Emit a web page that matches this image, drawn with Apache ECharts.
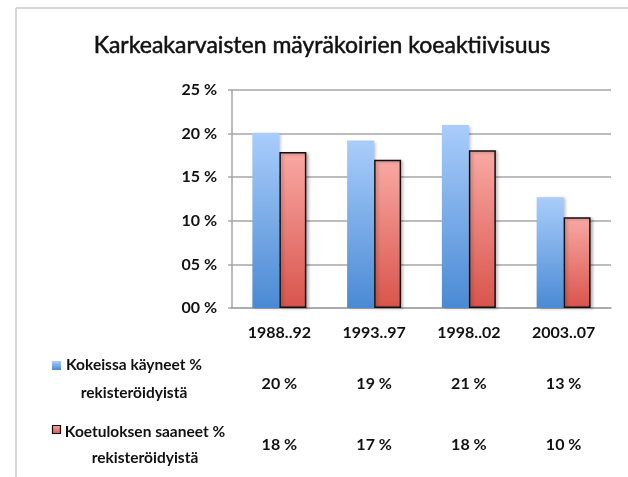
<!DOCTYPE html>
<html>
<head>
<meta charset="utf-8">
<script src="https://cdn.jsdelivr.net/npm/echarts@6/dist/echarts.min.js"></script>
<style>
html,body{margin:0;padding:0;background:#fff;}
#c{width:628px;height:477px;}
</style>
</head>
<body>
<div id="c"></div>
<script>
var titleText = 'Karkeakarvaisten mäyräkoirien koeaktiivisuus';
var categories = ['1988..92', '1993..97', '1998..02', '2003..07'];
var seriesNames = ['Kokeissa käyneet %\nrekisteröidyistä', 'Koetuloksen saaneet %\nrekisteröidyistä'];
var visited = [20.1, 19.2, 21.0, 12.7];
var results = [17.9, 17.0, 18.1, 10.4];
var tableVisited = ['20 %', '19 %', '21 %', '13 %'];
var tableResults = ['18 %', '17 %', '18 %', '10 %'];
var yTicks = ['00 %', '05 %', '10 %', '15 %', '20 %', '25 %'];

var FONT = 'Lato';
var chart = echarts.init(document.getElementById('c'), null, {renderer: 'canvas'});

function grad(top, bottom) {
  return new echarts.graphic.LinearGradient(0, 0, 0, 1, [
    {offset: 0, color: top}, {offset: 1, color: bottom}
  ]);
}

var labelBase = {fontFamily: FONT, fontWeight: 'bold', fontSize: 16, color: '#111', verticalAlign: 'middle'};

chart.setOption({
  animation: false,
  backgroundColor: '#fff',
  grid: {left: 232, right: 17, top: 90, bottom: 169, containLabel: false},
  xAxis: [
    {
      type: 'category', data: categories, position: 'bottom',
      axisLine: {show: true, lineStyle: {color: '#a6a6a6', width: 1.5}},
      axisTick: {show: false},
      axisLabel: Object.assign({margin: 25}, labelBase)
    },
    {
      type: 'category', data: categories, position: 'bottom',
      axisLine: {show: false}, axisTick: {show: false},
      axisLabel: Object.assign({margin: 76, formatter: function (v, i) { return tableVisited[i]; }}, labelBase)
    },
    {
      type: 'category', data: categories, position: 'bottom',
      axisLine: {show: false}, axisTick: {show: false},
      axisLabel: Object.assign({margin: 137, formatter: function (v, i) { return tableResults[i]; }}, labelBase)
    }
  ],
  yAxis: {
    type: 'value', min: 0, max: 25, interval: 5,
    axisLine: {show: true, lineStyle: {color: '#a6a6a6', width: 1.5}},
    axisTick: {show: true, length: 4, lineStyle: {color: '#a6a6a6', width: 1.5}},
    splitLine: {show: true, lineStyle: {color: '#a6a6a6', width: 1.5}},
    axisLabel: {
      margin: 15, fontFamily: FONT, fontWeight: 'bold', fontSize: 16, color: '#111',
      formatter: function (v) { return yTicks[Math.round(v / 5)]; }
    }
  },
  series: [
    {
      name: seriesNames[0], type: 'bar', data: visited, xAxisIndex: 0,
      barGap: '0%', barCategoryGap: '43%',
      itemStyle: {
        color: grad('#a9cdfb', '#4a8ad4'),
        shadowColor: 'rgba(0,0,0,0.25)', shadowBlur: 3, shadowOffsetX: 2, shadowOffsetY: 1
      }
    },
    {
      name: seriesNames[1], type: 'bar', data: results, xAxisIndex: 0,
      barGap: '0%', barCategoryGap: '43%',
      itemStyle: {
        color: grad('#f9a9a4', '#d8544b'),
        borderColor: '#111', borderWidth: 1.5,
        shadowColor: 'rgba(0,0,0,0.25)', shadowBlur: 3, shadowOffsetX: 2, shadowOffsetY: 1
      }
    }
  ],
  graphic: [
    {type: 'line', shape: {x1: 16, y1: 8, x2: 628, y2: 8}, style: {stroke: '#c8c8c8', lineWidth: 1.5}},
    {type: 'line', shape: {x1: 16, y1: 8, x2: 16, y2: 477}, style: {stroke: '#c8c8c8', lineWidth: 1.5}},
    {type: 'text', x: 322, y: 46, style: {text: titleText, fontFamily: FONT, fontSize: 23, fill: '#111', stroke: '#111', lineWidth: 0.5, textAlign: 'center', textVerticalAlign: 'middle'}},
    {type: 'rect', shape: {x: 52, y: 361, width: 9, height: 9}, style: {fill: grad('#a9cdfb', '#4a8ad4')}},
    {type: 'text', x: 134, y: 379, style: {text: seriesNames[0], fontFamily: FONT, fontWeight: 'bold', fontSize: 15.5, lineHeight: 28, fill: '#111', textAlign: 'center', textVerticalAlign: 'middle'}},
    {type: 'rect', shape: {x: 52.5, y: 425.5, width: 8, height: 8}, style: {fill: grad('#f9a9a4', '#d8544b'), stroke: '#111', lineWidth: 1.2}},
    {type: 'text', x: 145, y: 445, style: {text: seriesNames[1], fontFamily: FONT, fontWeight: 'bold', fontSize: 15.5, lineHeight: 26, fill: '#111', textAlign: 'center', textVerticalAlign: 'middle'}}
  ]
});
</script>
</body>
</html>
